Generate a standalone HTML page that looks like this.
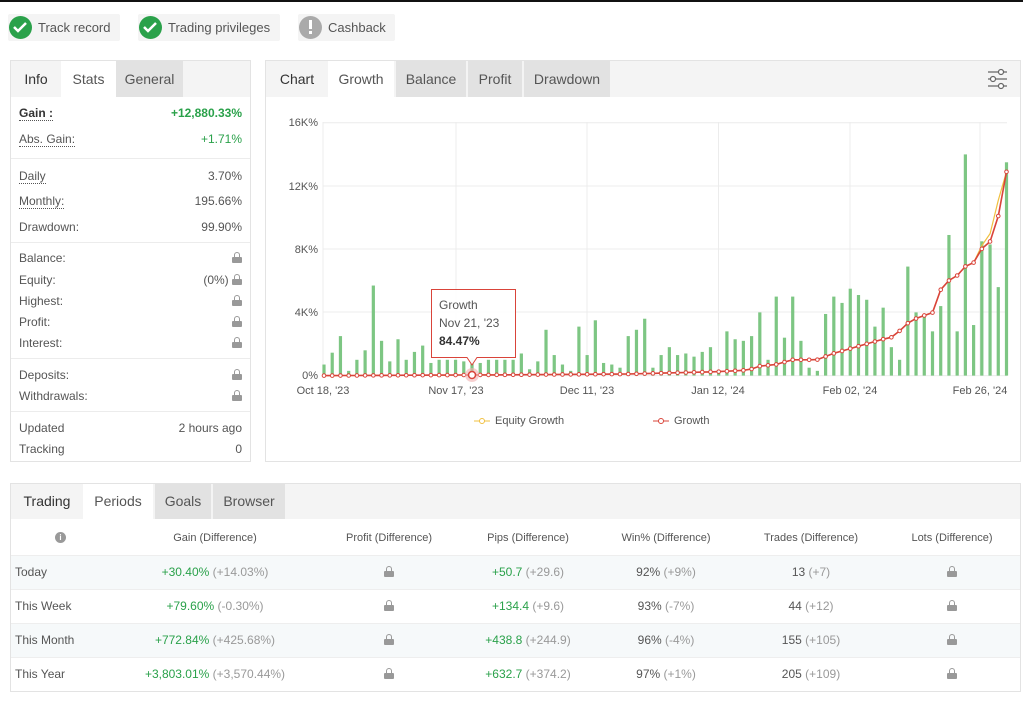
<!DOCTYPE html>
<html><head><meta charset="utf-8"><style>
*{box-sizing:border-box;margin:0;padding:0}
body{width:1023px;height:712px;background:#fff;font-family:"Liberation Sans",Arial,sans-serif;color:#444;position:relative;overflow:hidden;font-size:12px}
.a{position:absolute;white-space:nowrap}
.badge{position:absolute;top:14px;height:27px;background:#f4f4f4;border-radius:2px}
.ic{position:absolute;top:2px;left:2px;width:23px;height:23px;border-radius:50%;background:#2aa14a}
.panel{position:absolute;border:1px solid #e3e3e3;background:#fff}
.tb{position:absolute;left:0;right:0;top:0;height:36px;background:#f4f4f4}
.tab{position:absolute;top:0;height:36px;line-height:36px;font-size:14px;text-align:center;color:#555}
.lk{position:absolute;left:8px;font-size:12px;color:#555}
.lv{position:absolute;right:8px;font-size:12px;color:#555}
.u{border-bottom:1px dotted #555}
.sep{position:absolute;left:0;right:0;height:1px;background:#ececec}
.g{color:#2aa14a}
.lock{display:inline-block;width:10px;height:11px;position:relative;vertical-align:-1px}
.lock:before{content:"";position:absolute;left:2px;top:0;width:6px;height:6px;border:1.5px solid #999;border-bottom:none;border-radius:3px 3px 0 0;box-sizing:border-box}
.lock:after{content:"";position:absolute;left:0;top:5px;width:10px;height:6px;background:#999;border-radius:1px}
.row{position:absolute;left:0;right:0;height:34px}
.c{position:absolute;text-align:center;font-size:12px;color:#555;transform:translateX(-50%)}
.d{color:#999}
</style></head><body>
<div class="a" style="left:0;top:0;width:1023px;height:2px;background:#111"></div>
<div class="badge" style="left:8px;width:112px"><div class="ic" style="left:1px"></div><span class="a" style="left:30px;top:6px;font-size:13px;color:#555">Track record</span></div>
<div class="badge" style="left:138px;width:142px"><div class="ic" style="left:1px"></div><span class="a" style="left:30px;top:6px;font-size:13px;color:#555">Trading privileges</span></div>
<div class="badge" style="left:298px;width:97px"><div class="ic" style="left:1px;background:#aaa"></div><span class="a" style="left:30px;top:6px;font-size:13px;color:#555">Cashback</span></div>
<svg class="a" style="left:0;top:0" width="400" height="45">
<polyline points="14,27 18,31 26,23" fill="none" stroke="#fff" stroke-width="2.5"/>
<polyline points="144,27 148,31 156,23" fill="none" stroke="#fff" stroke-width="2.5"/>
<rect x="309" y="20" width="3" height="9" fill="#fff"/><rect x="309" y="31" width="3" height="3" fill="#fff"/>
</svg>

<div class="panel" style="left:10px;top:60px;width:241px;height:402px">
<div class="tb"></div>
<div class="tab" style="left:0;width:50px;color:#333">Info</div>
<div class="tab" style="left:50px;width:55px;background:#fff">Stats</div>
<div class="tab" style="left:105px;width:67px;background:#e2e2e2">General</div>
<div class="lk u" style="top:45px;font-weight:bold;color:#333">Gain :</div><div class="lv g" style="top:45px;font-weight:bold">+12,880.33%</div>
<div class="lk u" style="top:71px">Abs. Gain:</div><div class="lv g" style="top:71px">+1.71%</div>
<div class="sep" style="top:97px"></div>
<div class="lk u" style="top:108px">Daily</div><div class="lv" style="top:108px">3.70%</div>
<div class="lk u" style="top:133px">Monthly:</div><div class="lv" style="top:133px">195.66%</div>
<div class="lk" style="top:159px">Drawdown:</div><div class="lv" style="top:159px">99.90%</div>
<div class="sep" style="top:181px"></div>
<div class="lk" style="top:190px">Balance:</div><div class="lv" style="top:190px"><span class="lock"></span></div>
<div class="lk" style="top:212px">Equity:</div><div class="lv" style="top:212px">(0%) <span class="lock"></span></div>
<div class="lk" style="top:233px">Highest:</div><div class="lv" style="top:233px"><span class="lock"></span></div>
<div class="lk" style="top:254px">Profit:</div><div class="lv" style="top:254px"><span class="lock"></span></div>
<div class="lk" style="top:275px">Interest:</div><div class="lv" style="top:275px"><span class="lock"></span></div>
<div class="sep" style="top:297px"></div>
<div class="lk" style="top:307px">Deposits:</div><div class="lv" style="top:307px"><span class="lock"></span></div>
<div class="lk" style="top:328px">Withdrawals:</div><div class="lv" style="top:328px"><span class="lock"></span></div>
<div class="sep" style="top:350px"></div>
<div class="lk" style="top:360px">Updated</div><div class="lv" style="top:360px">2 hours ago</div>
<div class="lk" style="top:381px">Tracking</div><div class="lv" style="top:381px">0</div>
</div>

<div class="panel" style="left:265px;top:60px;width:756px;height:402px">
<div class="tb"></div>
<div class="tab" style="left:0;width:62px;color:#333">Chart</div>
<div class="tab" style="left:62px;width:66px;background:#fff">Growth</div>
<div class="tab" style="left:130px;width:70px;background:#e2e2e2">Balance</div>
<div class="tab" style="left:202px;width:54px;background:#e2e2e2">Profit</div>
<div class="tab" style="left:258px;width:86px;background:#e2e2e2">Drawdown</div>
</div>
<svg class="a" style="left:0;top:0" width="1023" height="470" id="ch">
<g stroke="#666" stroke-width="1.2" fill="#fff">
<line x1="988" y1="72" x2="1007" y2="72"/><line x1="988" y1="79" x2="1007" y2="79"/><line x1="988" y1="86" x2="1007" y2="86"/>
<circle cx="1001" cy="72" r="2.5"/><circle cx="993" cy="79" r="2.5"/><circle cx="1001" cy="86" r="2.5"/>
</g>
<g stroke="#ececec" stroke-width="1" id="grid"></g>
<g font-size="11" fill="#555" text-anchor="end">
<text x="318" y="126">16K%</text><text x="318" y="190">12K%</text><text x="318" y="253">8K%</text><text x="318" y="316">4K%</text><text x="318" y="379">0%</text>
</g>
<g font-size="11" fill="#555" text-anchor="middle">
<text x="323" y="394">Oct 18, '23</text><text x="456" y="394">Nov 17, '23</text><text x="587" y="394">Dec 11, '23</text><text x="718" y="394">Jan 12, '24</text><text x="850" y="394">Feb 02, '24</text><text x="980" y="394">Feb 26, '24</text>
</g>
<g id="bars" fill="#7dc683"></g>
<polyline id="eq" fill="none" stroke="#f0c040" stroke-width="1.2"/>
<polyline id="gl" fill="none" stroke="#d9443a" stroke-width="1.6"/>
<g id="dots" fill="#fff" stroke="#d9443a" stroke-width="1"></g>
<g font-size="11" fill="#555">
<line x1="474" y1="421" x2="490" y2="421" stroke="#f0c040"/><circle cx="482" cy="421" r="2.5" fill="#fff" stroke="#f0c040"/><text x="495" y="424">Equity Growth</text>
<line x1="653" y1="421" x2="669" y2="421" stroke="#d9443a"/><circle cx="661" cy="421" r="2.5" fill="#fff" stroke="#d9443a"/><text x="674" y="424">Growth</text>
</g>
<circle cx="472" cy="375" r="7" fill="#f2b0b0" opacity=".6"/>
<circle cx="472" cy="375" r="3.5" fill="#fff" stroke="#d9443a" stroke-width="1.5"/>
<path d="M431.5,289.5 H515.5 V357.5 H477 L472,365 L467,357.5 H431.5 Z" fill="#fff" fill-opacity=".95" stroke="#d9443a"/>
<text x="439" y="309" font-size="12" fill="#555">Growth</text>
<text x="439" y="327" font-size="12" fill="#555">Nov 21, '23</text>
<text x="439" y="345" font-size="12" fill="#333" font-weight="bold">84.47%</text>
</svg>

<div class="panel" style="left:10px;top:483px;width:1011px;height:209px">
<div class="tb" style="height:35px"></div>
<div class="tab" style="left:0;width:72px;color:#333;height:35px;line-height:35px">Trading</div>
<div class="tab" style="left:72px;width:70px;background:#fff;height:35px;line-height:35px">Periods</div>
<div class="tab" style="left:144px;width:56px;background:#e2e2e2;height:35px;line-height:35px">Goals</div>
<div class="tab" style="left:202px;width:72px;background:#e2e2e2;height:35px;line-height:35px">Browser</div>
<div class="row" style="top:37px"></div>
<div class="row" style="top:71px;background:#f6f9fa;border-top:1px solid #eee"></div>
<div class="row" style="top:105px;border-top:1px solid #eee"></div>
<div class="row" style="top:139px;background:#f6f9fa;border-top:1px solid #eee"></div>
<div class="row" style="top:173px;border-top:1px solid #eee"></div>
</div>
<div class="a" style="left:55px;top:532px;width:11px;height:11px;border-radius:50%;background:#999;color:#fff;font-size:8px;text-align:center;line-height:11px;font-weight:bold">i</div>
<div id="tbl"></div>
<script>
const ns="http://www.w3.org/2000/svg";
const grid=document.getElementById('grid');
function ln(x1,y1,x2,y2){const l=document.createElementNS(ns,'line');l.setAttribute('x1',x1);l.setAttribute('y1',y1);l.setAttribute('x2',x2);l.setAttribute('y2',y2);grid.appendChild(l);}
[122.7,186,249,312,375.6].forEach(y=>ln(323,y,1007,y));
[323,456,587,718.5,850,980].forEach(x=>ln(x,122,x,376));
const H=[0.7,1.45,2.5,0.3,1.0,1.6,5.7,2.2,0.9,2.3,1.0,1.5,1.9,0.8,1.0,1.0,1.0,0.9,1.1,0.8,1.0,1.0,1.0,1.0,1.4,0.4,0.9,2.9,1.3,0.7,0.3,3.1,1.3,3.5,0.8,0.7,0.5,2.5,2.9,3.6,0.5,1.3,1.8,1.3,1.4,1.2,1.5,1.8,0.2,2.8,2.3,2.2,2.5,4.0,1.0,5.0,2.4,5.0,2.2,0.5,0.3,3.9,5.0,4.6,5.5,5.1,4.8,3.1,4.3,1.8,1.0,6.9,4.0,3.8,2.8,4.4,8.9,2.8,14.0,3.2,8.5,8.3,5.6,13.5];
const n=H.length,x0=324,dx=(1006.5-324)/(n-1),y0=375.6,k=15.8;
const bars=document.getElementById('bars');
H.forEach((h,i)=>{const r=document.createElementNS(ns,'rect');r.setAttribute('x',x0+i*dx-1.6);r.setAttribute('width',3.2);r.setAttribute('y',y0-h*k);r.setAttribute('height',h*k);bars.appendChild(r);});
const key=[[0,0],[20,0.05],[37,0.1],[48,0.25],[52,0.35],[55,0.5],[58,0.7],[60,0.9],[63,1.0],[66,1.4],[68,1.7],[70,2.0],[72,2.3],[73,2.4],[74,2.8],[75,3.3],[76,3.6],[77,3.8],[78,3.9],[79,5.4],[80,6.0],[81,6.3],[82,6.9],[83,12.9]];
// recompute index positions from X coords: map using gridded x spacing
const keyX=[[122,0],[500,0.05],[750,0.1],[937,0.25],[1000,0.35],[1022,0.6],[1056,0.7],[1090,1.0],[1141,1.0],[1175,1.4],[1209,1.7],[1243,2.0],[1277,2.3],[1294,2.4],[1311,2.8],[1328,3.3],[1345,3.6],[1362,3.8],[1379,3.9],[1396,5.4],[1413,6.0],[1430,6.3],[1447,6.9],[1464,7.1],[1481,8.0],[1498,8.4],[1515,9.9],[1530,12.9]];
function val(X){for(let j=0;j<keyX.length-1;j++){const a=keyX[j],b=keyX[j+1];if(X<=b[0])return a[1]+(b[1]-a[1])*(X-a[0])/(b[0]-a[0]);}return 12.9;}
let pts=[],ept=[];const dots=document.getElementById('dots');
for(let i=0;i<n;i++){const X=122+i*17;const v=val(X);const x=x0+i*dx,y=y0-v*k;pts.push(x.toFixed(1)+','+y.toFixed(1));
let ev=v;if(i>=n-4)ev=v+[0.2,0.5,1.0,0][i-(n-4)];ept.push(x.toFixed(1)+','+(y0-ev*k).toFixed(1));
const c=document.createElementNS(ns,'circle');c.setAttribute('cx',x);c.setAttribute('cy',y);c.setAttribute('r',1.8);dots.appendChild(c);}
document.getElementById('gl').setAttribute('points',pts.join(' '));
document.getElementById('eq').setAttribute('points',ept.join(' '));
// table
const cols=[215,389,528,666,811,952];
const hdr=['Gain (Difference)','Profit (Difference)','Pips (Difference)','Win% (Difference)','Trades (Difference)','Lots (Difference)'];
const L='<span class="lock"></span>';
const rows=[['Today','<span class="g">+30.40%</span> <span class="d">(+14.03%)</span>',L,'<span class="g">+50.7</span> <span class="d">(+29.6)</span>','92% <span class="d">(+9%)</span>','13 <span class="d">(+7)</span>',L],
['This Week','<span class="g">+79.60%</span> <span class="d">(-0.30%)</span>',L,'<span class="g">+134.4</span> <span class="d">(+9.6)</span>','93% <span class="d">(-7%)</span>','44 <span class="d">(+12)</span>',L],
['This Month','<span class="g">+772.84%</span> <span class="d">(+425.68%)</span>',L,'<span class="g">+438.8</span> <span class="d">(+244.9)</span>','96% <span class="d">(-4%)</span>','155 <span class="d">(+105)</span>',L],
['This Year','<span class="g">+3,803.01%</span> <span class="d">(+3,570.44%)</span>',L,'<span class="g">+632.7</span> <span class="d">(+374.2)</span>','97% <span class="d">(+1%)</span>','205 <span class="d">(+109)</span>',L]];
let h='';hdr.forEach((t,i)=>h+=`<div class="a c" style="left:${cols[i]}px;top:532px;font-size:11px">${t}</div>`);
rows.forEach((r,j)=>{const y=565+j*34;h+=`<div class="a" style="left:15px;top:${y}px;color:#555">${r[0]}</div>`;for(let i=0;i<6;i++)h+=`<div class="a c" style="left:${cols[i]}px;top:${y}px">${r[i+1]}</div>`;});
document.getElementById('tbl').innerHTML=h;
</script>
</body></html>
